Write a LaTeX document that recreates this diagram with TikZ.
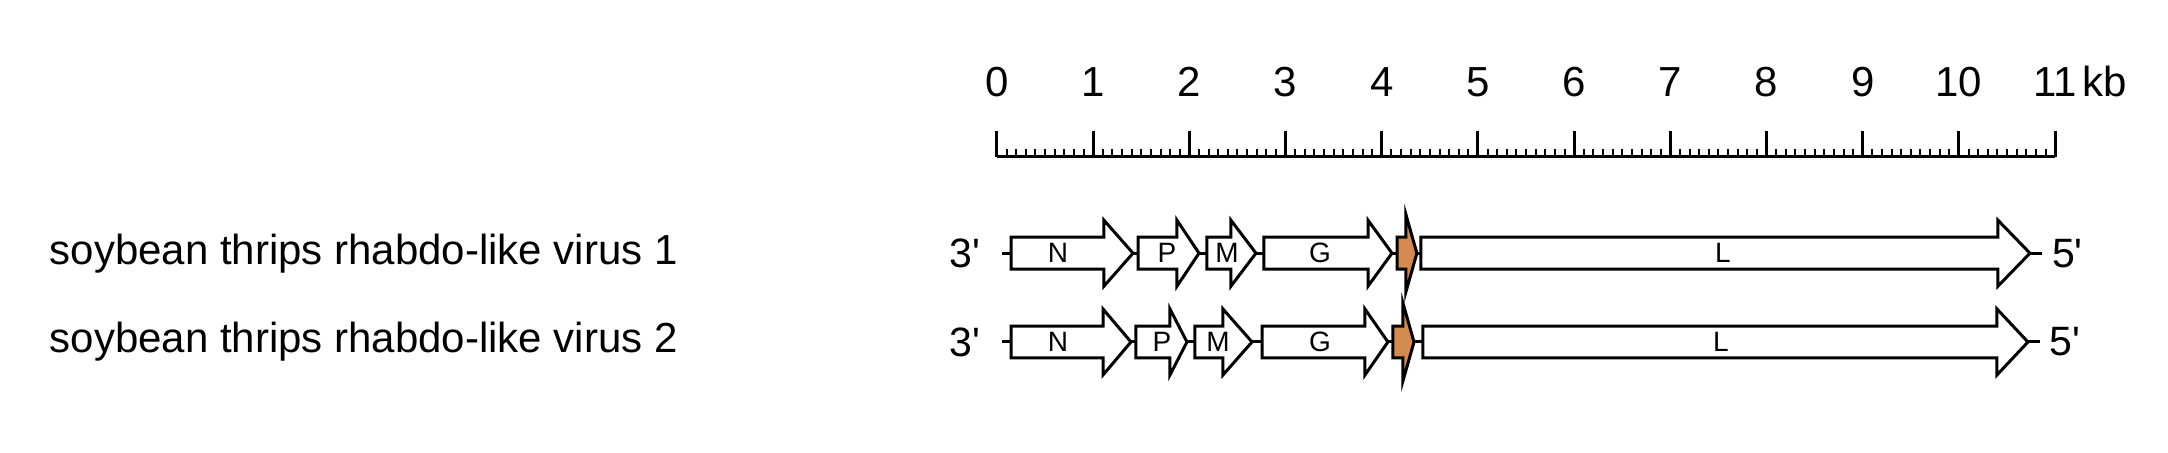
\documentclass[tikz,border=0pt]{standalone}
\usepackage{fontspec}
\setmainfont{Liberation Sans}
\usetikzlibrary{positioning}

\definecolor{orfbrown}{RGB}{212,138,80}

\tikzset{
  genebox/.style={draw, fill=white, line width=1.5pt, line join=miter},
  smallorf/.style={genebox, fill=orfbrown},
  genelabel/.style={inner sep=0pt, font=\fontsize{14}{16}\selectfont},
  endlabel/.style={inner sep=0pt, font=\fontsize{20.5}{24}\selectfont},
  virusname/.style={inner sep=0pt, anchor=west, font=\fontsize{21}{25}\selectfont},
  kblabel/.style={inner sep=0pt, anchor=base, font=\fontsize{21}{25}\selectfont}
}

% start, head start, tip, row y, head half-height
\newcommand{\genearrow}[6][genebox]{%
  \draw[#1] (#2,#5+0.166) -- (#3,#5+0.166) -- (#3,#5+#6) -- (#4,#5)
    -- (#3,#5-#6) -- (#3,#5-0.166) -- (#2,#5-0.166) -- cycle;}

\begin{document}
\begin{tikzpicture}[x=48.1pt, y=48.1pt]
\useasboundingbox (-10.364,1.632) rectangle (12.173,-3.067);

% Scale bar (kb)
\draw[line width=1.5pt] (0,0) -- (11,0);
\foreach \t in {1,...,109}
  \draw[line width=1pt] (\t/10,0) -- (\t/10,0.083);
\foreach \k in {0,...,11} {
  \draw[line width=1.5pt] (\k,0) -- (\k,0.27);
  \node[kblabel] (kb\k) at (\k,0.624) {\k};
}
\node[kblabel, anchor=base west, xshift=2.5pt] (kbunit) at (kb11.base east) {kb};

% Virus 1
\node[virusname] (name1) at (-9.85,-1.0) {soybean thrips rhabdo-like virus 1};
\coordinate (start1) at (0.052,-1.0);
\coordinate (end1) at (10.863,-1.0);
\draw[line width=1.5pt] (start1) -- (end1);
\node[endlabel, left=0.22 of start1] (three1) {3\textquotesingle};
\node[endlabel, right=0.1 of end1] (five1) {5\textquotesingle};
\genearrow{0.146}{1.112}{1.414}{-1.0}{0.343}
\genearrow{1.466}{1.871}{2.100}{-1.0}{0.343}
\genearrow{2.183}{2.432}{2.692}{-1.0}{0.343}
\genearrow{2.775}{3.857}{4.106}{-1.0}{0.343}
\genearrow[smallorf]{4.160}{4.250}{4.365}{-1.0}{0.405}
\genearrow{4.407}{10.405}{10.738}{-1.0}{0.343}
\node[genelabel] (n1) at (0.634,-1.0) {N};
\node[genelabel] (p1) at (1.767,-1.0) {P};
\node[genelabel] (m1) at (2.391,-1.0) {M};
\node[genelabel] (g1) at (3.358,-1.0) {G};
\node[genelabel] (l1) at (7.547,-1.0) {L};

% Virus 2
\node[virusname] (name2) at (-9.85,-1.923) {soybean thrips rhabdo-like virus 2};
\coordinate (start2) at (0.052,-1.923);
\coordinate (end2) at (10.842,-1.923);
\draw[line width=1.5pt] (start2) -- (end2);
\node[endlabel, left=0.22 of start2] (three2) {3\textquotesingle};
\node[endlabel, right=0.1 of end2] (five2) {5\textquotesingle};
\genearrow{0.146}{1.102}{1.393}{-1.923}{0.343}
\genearrow{1.445}{1.798}{1.975}{-1.923}{0.343}
\genearrow{2.058}{2.349}{2.651}{-1.923}{0.343}
\genearrow{2.755}{3.825}{4.064}{-1.923}{0.343}
\genearrow[smallorf]{4.116}{4.220}{4.335}{-1.923}{0.405}
\genearrow{4.428}{10.395}{10.717}{-1.923}{0.343}
\node[genelabel] (n2) at (0.634,-1.923) {N};
\node[genelabel] (p2) at (1.715,-1.923) {P};
\node[genelabel] (m2) at (2.297,-1.923) {M};
\node[genelabel] (g2) at (3.358,-1.923) {G};
\node[genelabel] (l2) at (7.526,-1.923) {L};
\end{tikzpicture}
\end{document}
